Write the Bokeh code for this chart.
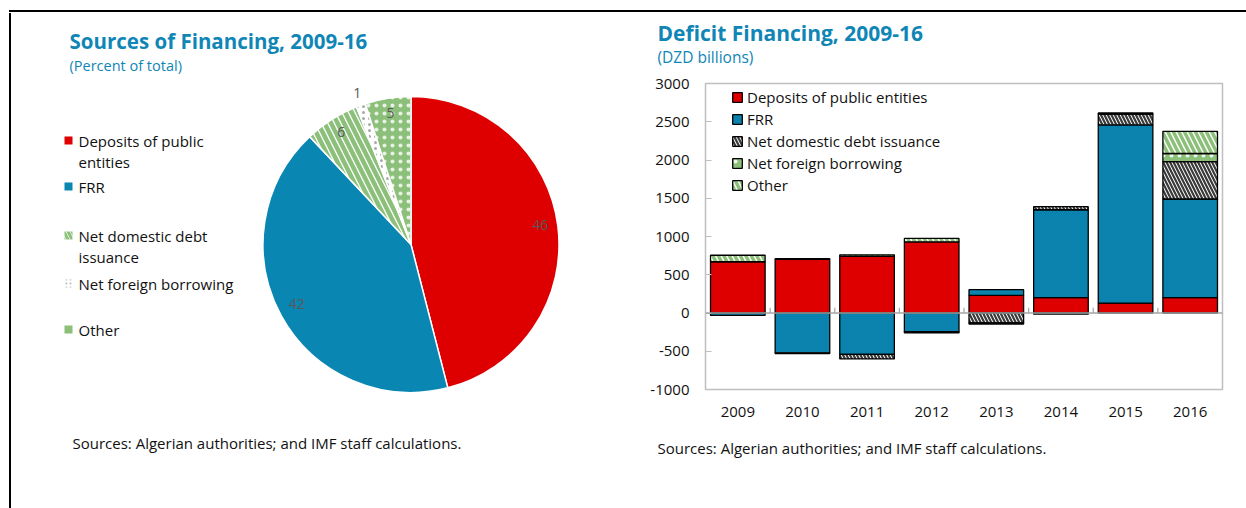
import numpy as np
from bokeh.plotting import figure
from bokeh.models import Range1d, Legend, LegendItem, FixedTicker, Div, Span
from bokeh.layouts import row, column
from bokeh.core.properties import value
from bokeh.embed import file_html
from bokeh.resources import INLINE

# ---------------- data ----------------
pie_labels = ["Deposits of public entities", "FRR", "Net domestic debt issuance",
              "Net foreign borrowing", "Other"]
pie_legend_text = ["Deposits of public\nentities", "FRR", "Net domestic debt\nissuance",
                   "Net foreign borrowing", "Other"]
pie_values = [46, 42, 6, 1, 5]

years = ["2009", "2010", "2011", "2012", "2013", "2014", "2015", "2016"]
series_names = ["Deposits of public entities", "FRR", "Net domestic debt issuance",
                "Net foreign borrowing", "Other"]
deposits = [670, 700, 740, 930, 230, 200, 130, 200]
frr = [-30, -520, -540, -245, 75, 1150, 2330, 1290]
net_domestic = [0, -10, -60, -15, -130, 40, 140, 490]
net_foreign = [0, 0, 0, 0, -15, 0, 0, 105]
other = [85, 10, 20, 45, 0, -15, 15, 290]
y_ticks = [-1000, -500, 0, 500, 1000, 1500, 2000, 2500, 3000]

# ---------------- styles ----------------
FONT = "Open Sans"
TEAL = "#0F86B6"
RED = "#DE0000"
BLUE = "#0A86B2"
GREEN = "#8CC07A"
INK = "#111111"
source_note = "Sources: Algerian authorities; and IMF staff calculations."


def canvas(x0, y0, w, h):
    """A bare figure whose data units are page pixels (y measured downward, stored negated)."""
    f = figure(width=w, height=h, x_range=Range1d(x0, x0 + w), y_range=Range1d(-(y0 + h), -y0),
               output_backend="svg", toolbar_location=None, min_border=0, frame_align=False,
               x_axis_location=None, y_axis_location=None, outline_line_color=None)
    f.grid.visible = False
    return f


def Y(y):
    return -y


def put_text(f, x, y, txt, size, style="normal", color=INK, **kw):
    f.text(x=[x], y=[Y(y)], text=[txt], text_font=value(FONT), text_font_size=size,
           text_font_style=style, text_color=color, text_baseline="middle", **kw)


# ---------------- left panel (pie) ----------------
X0, Y0 = 12, 13
LW, LH = 627, 487
L = canvas(X0, Y0, LW, LH)

put_text(L, 69, 40, "Sources of Financing, 2009-16", "20.5px", "bold", TEAL)
put_text(L, 69, 65, "(Percent of total)", "14.5px", "normal", TEAL)

cx, cy, R = 410.5, Y(244), 148
slice_styles = [
    dict(fill_color=RED),
    dict(fill_color=BLUE),
    dict(fill_color="white", hatch_pattern="\\", hatch_color=GREEN, hatch_weight=4.5, hatch_scale=13),
    dict(fill_color="white", hatch_pattern=".", hatch_color="#A8A8A8", hatch_weight=1, hatch_scale=6),
    dict(fill_color=GREEN, hatch_pattern=".", hatch_color="white", hatch_weight=1, hatch_scale=8,
         hatch_alpha=0.8),
]
frac = np.array(pie_values, dtype=float) / np.sum(pie_values)
cum = np.concatenate([[0], np.cumsum(frac)])
for i, st in enumerate(slice_styles):
    a0 = np.pi / 2 - 2 * np.pi * cum[i]
    a1 = np.pi / 2 - 2 * np.pi * cum[i + 1]
    L.wedge(x=cx, y=cy, radius=R, start_angle=a0, end_angle=a1, direction="clock",
            line_color="white", line_width=1.5, **st)
mid = (cum[:-1] + cum[1:]) / 2
rr = np.where(frac < 0.02, 1.07 * R, 0.88 * R)
lx = cx + rr * np.sin(2 * np.pi * mid)
ly = cy + rr * np.cos(2 * np.pi * mid)
L.text(x=lx, y=ly, text=[str(v) for v in pie_values], text_font=value(FONT), text_font_size="14px",
       text_color="#595959", text_align="center", text_baseline="middle", y_offset=-3)

# pie legend
leg_y = [140, 186, 235, 283, 329]
legend_glyphs = [
    dict(fill_color=RED),
    dict(fill_color=BLUE),
    dict(fill_color="white", hatch_pattern="\\", hatch_color=GREEN, hatch_weight=3, hatch_scale=8),
    dict(fill_color="white", hatch_pattern=".", hatch_color="#B8B8B8", hatch_weight=1, hatch_scale=4),
    dict(fill_color=GREEN),
]
for i, st in enumerate(legend_glyphs):
    L.rect(x=68, y=Y(leg_y[i]), width=8, height=8, line_color=None, **st)
for yy, txt in zip(leg_y, pie_legend_text):
    for k, line in enumerate(txt.split("\n")):
        put_text(L, 78, yy + 21 * k, line, "15px")
put_text(L, 72, 442, source_note, "15px")

# ---------------- right panel (bars) ----------------
RX0 = X0 + LW
RW = 1238 - RX0
FL, FR, FT, FB = 705, 1222, 83, 389   # page position of the plot frame
TOP_H = FT - 12 - Y0                  # title strip height
BOT_Y = FB + 40                       # bar figure bottom
RT = canvas(RX0, Y0, RW, TOP_H)
put_text(RT, 657, 32, "Deficit Financing, 2009-16", "21px", "bold", TEAL)
put_text(RT, 657, 56, "(DZD billions)", "15.5px", "normal", TEAL)

R_ = figure(width=RW, height=BOT_Y - (Y0 + TOP_H), x_range=Range1d(-0.5, 7.5),
            y_range=Range1d(-1000, 3000), output_backend="svg", toolbar_location=None,
            frame_align=False, min_border_left=FL - RX0, min_border_right=1238 - FR,
            min_border_top=FT - (Y0 + TOP_H), min_border_bottom=BOT_Y - FB)
R_.grid.visible = False
R_.outline_line_color = "#BFBFBF"
R_.outline_line_width = 1.5

RB = canvas(RX0, BOT_Y, RW, (Y0 + LH) - BOT_Y)
put_text(RB, 657, 447, source_note, "15px")

yax = R_.yaxis[0]
yax.ticker = FixedTicker(ticks=y_ticks)
yax.major_label_overrides = {t: str(t) for t in y_ticks}
yax.axis_line_color = None
yax.major_tick_in = 6
yax.major_tick_out = 0
yax.major_tick_line_color = "#BFBFBF"
yax.minor_tick_line_color = None
yax.major_label_standoff = 16
yax.major_label_text_font = FONT
yax.major_label_text_font_size = "15px"
yax.major_label_text_color = INK

xax = R_.xaxis[0]
xax.ticker = FixedTicker(ticks=list(range(len(years))))
xax.major_label_overrides = {i: y for i, y in enumerate(years)}
xax.axis_line_color = None
xax.major_tick_line_color = None
xax.minor_tick_line_color = None
xax.major_label_standoff = 11
xax.major_label_text_font = FONT
xax.major_label_text_font_size = "15px"
xax.major_label_text_color = INK

bar_styles = [
    dict(fill_color=RED),
    dict(fill_color=BLUE, hatch_pattern="/", hatch_color="#0A6F96", hatch_alpha=0.35,
         hatch_weight=1, hatch_scale=4),
    dict(fill_color="white", hatch_pattern="\\", hatch_color="#3A3A3A", hatch_weight=2.2, hatch_scale=7),
    dict(fill_color=GREEN, hatch_pattern=".", hatch_color="white", hatch_weight=1, hatch_scale=8,
         hatch_alpha=0.85),
    dict(fill_color="white", hatch_pattern="\\", hatch_color=GREEN, hatch_weight=3.5, hatch_scale=11),
]
all_series = [deposits, frr, net_domestic, net_foreign, other]
xs = np.arange(len(years))
pos = np.zeros(len(years))
neg = np.zeros(len(years))
items = []
for name, vals, st in zip(series_names, all_series, bar_styles):
    v = np.array(vals, dtype=float)
    bottom = np.where(v >= 0, pos, neg + v)
    top = np.where(v >= 0, pos + v, neg)
    pos = np.where(v >= 0, pos + v, pos)
    neg = np.where(v < 0, neg + v, neg)
    keep = v != 0
    r = R_.vbar(x=xs[keep], bottom=bottom[keep], top=top[keep], width=0.845,
                line_color="black", line_width=1.3, **st)
    items.append(LegendItem(label=name, renderers=[r]))

R_.add_layout(Span(location=0, dimension="width", line_color="#A6A6A6", line_width=1.5))
bx = xs[:-1] + 0.5
R_.segment(x0=bx, y0=np.zeros(len(bx)), x1=bx, y1=np.full(len(bx), 70.0),
           line_color="#A6A6A6", line_width=1.2)

leg = Legend(items=items, location=(26, 194), border_line_color=None, background_fill_alpha=0,
             label_text_font=FONT, label_text_font_size="15px", label_text_color=INK,
             glyph_width=12, glyph_height=12, label_height=20, label_standoff=4,
             spacing=2, padding=0, margin=0)
R_.add_layout(leg)

# page frame: top rule at y=10..12 from x=9, left rule at x=9..11
top_line = Div(width=1237, height=2, margin=(10, 0, 1, 9), styles={"background-color": "black"})
left_line = Div(width=2, height=495, margin=(0, 1, 0, 9), styles={"background-color": "black"})
layout = column(top_line, row(left_line, L, column(RT, R_, RB, spacing=0), spacing=0), spacing=0)

open("out.html", "w").write(file_html(layout, INLINE))
